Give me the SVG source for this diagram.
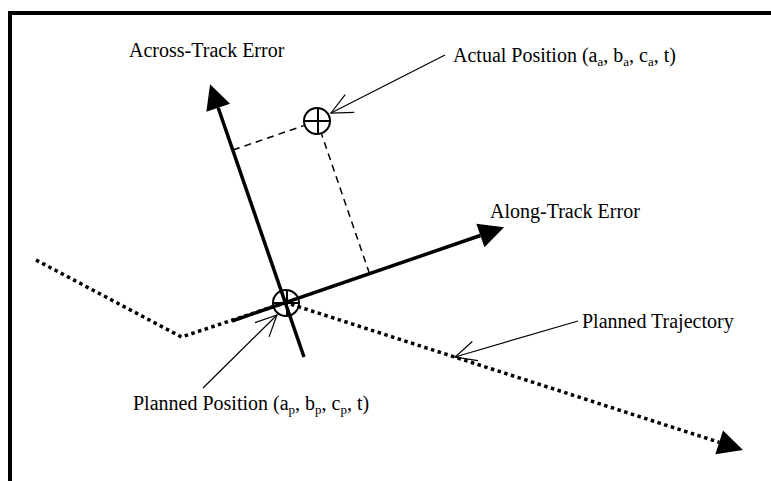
<svg xmlns="http://www.w3.org/2000/svg" width="771" height="481" viewBox="0 0 771 481">
<style>
text{font-family:"Liberation Serif","Times New Roman",serif;font-size:20px;fill:#000}
.sub{font-size:13px}
.axis{stroke:#000;stroke-width:3.5;fill:none}
.traj{stroke:#000;stroke-width:3.5;fill:none;stroke-dasharray:3.5 3.5}
.proj{stroke:#000;stroke-width:1.5;fill:none;stroke-dasharray:7 5}
.lead{stroke:#000;stroke-width:1.2;fill:none}
.mark{stroke:#000;stroke-width:2;fill:none}
</style>
<defs>
<marker id="solid" markerUnits="userSpaceOnUse" orient="auto" refX="0" refY="0" markerWidth="30" markerHeight="30" overflow="visible">
<path d="M0,-12.5 L25,0 L0,12.5 Z" fill="#000"/>
</marker>
<marker id="open" markerUnits="userSpaceOnUse" orient="auto" refX="0" refY="0" markerWidth="30" markerHeight="30" overflow="visible">
<path d="M-21,-10 L0,0 L-21,10" fill="none" stroke="#000" stroke-width="1.2"/>
</marker>
</defs>
<rect x="10" y="13" width="800" height="520" fill="none" stroke="#000" stroke-width="4"/>
<g id="connectors">
<polyline class="traj" points="36,260 181.5,337 285.5,302.5 719.2,442.3" marker-end="url(#solid)"/>
<line class="axis" x1="304" y1="357" x2="218.2" y2="107.8" marker-end="url(#solid)"/>
<line class="axis" x1="232" y1="321" x2="480.4" y2="235.5" marker-end="url(#solid)"/>
<line class="proj" x1="233" y1="150" x2="303.8" y2="125.6"/>
<line class="proj" x1="369.5" y1="273.6" x2="321.6" y2="134.2"/>
<line class="lead" x1="445" y1="55" x2="331" y2="113" marker-end="url(#open)"/>
<line class="lead" x1="203" y1="388" x2="277" y2="315" marker-end="url(#open)"/>
<line class="lead" x1="578" y1="321" x2="455" y2="357" marker-end="url(#open)"/>
</g>
<g id="actual-position">
<circle class="mark" cx="317" cy="121" r="13" fill="#fff"/>
<line class="mark" x1="304" y1="121" x2="330" y2="121"/>
<line class="mark" x1="318" y1="108" x2="318" y2="134"/>
</g>
<g id="planned-position">
<circle class="mark" cx="286" cy="303" r="13"/>
<line class="mark" x1="273" y1="303" x2="299" y2="303"/>
<line class="mark" x1="287" y1="290" x2="287" y2="316"/>
</g>
<g id="across-track-label"><text x="129" y="57">Across-Track Error</text></g>
<g id="along-track-label"><text x="490" y="218">Along-Track Error</text></g>
<g id="actual-label"><text x="453" y="62">Actual Position (a<tspan class="sub" dy="4">a</tspan><tspan dy="-4">, b</tspan><tspan class="sub" dy="4">a</tspan><tspan dy="-4">, c</tspan><tspan class="sub" dy="4">a</tspan><tspan dy="-4">, t)</tspan></text></g>
<g id="planned-label"><text x="133" y="410">Planned Position (a<tspan class="sub" dy="4">p</tspan><tspan dy="-4">, b</tspan><tspan class="sub" dy="4">p</tspan><tspan dy="-4">, c</tspan><tspan class="sub" dy="4">p</tspan><tspan dy="-4">, t)</tspan></text></g>
<g id="trajectory-label"><text x="582" y="328">Planned Trajectory</text></g>
</svg>
